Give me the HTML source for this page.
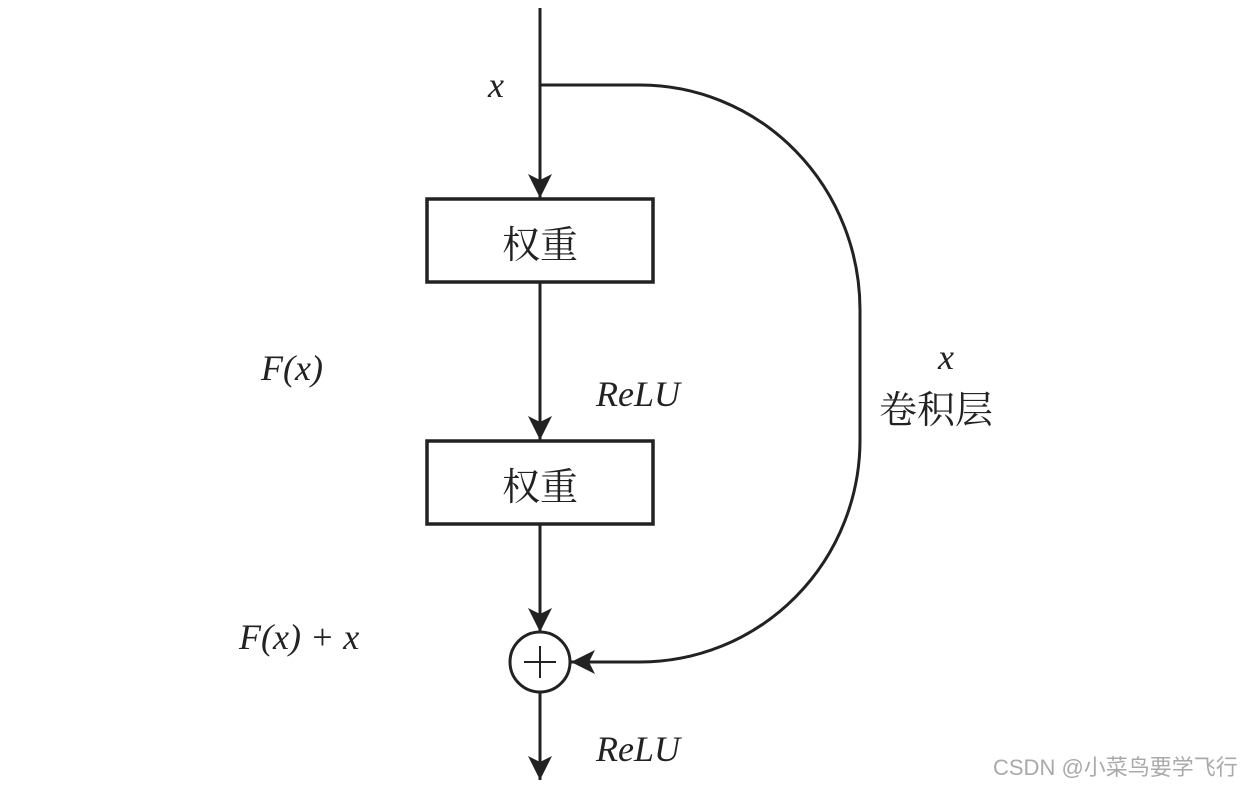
<!DOCTYPE html>
<html><head><meta charset="utf-8"><style>
body{margin:0;background:#fff;}
svg text{fill:#222;}
</style></head><body>
<svg width="1260" height="787" viewBox="0 0 1260 787" xmlns="http://www.w3.org/2000/svg">
<defs>
<marker id="a" markerWidth="26" markerHeight="26" refX="24" refY="12" orient="auto" markerUnits="userSpaceOnUse">
<path d="M0,0 L24,12 L0,24 L6,12 Z" fill="#222"/>
</marker>
</defs>
<g stroke="#222" stroke-width="3" fill="none">
<line x1="540" y1="8" x2="540" y2="198" marker-end="url(#a)"/>
<rect x="427" y="199" width="226" height="83" stroke-width="3.5"/>
<line x1="540" y1="282" x2="540" y2="440" marker-end="url(#a)"/>
<rect x="427" y="441" width="226" height="83" stroke-width="3.5"/>
<line x1="540" y1="524" x2="540" y2="632" marker-end="url(#a)"/>
<circle cx="540" cy="662" r="30"/>
<line x1="524" y1="662" x2="556" y2="662" stroke-width="2"/>
<line x1="540" y1="646" x2="540" y2="678" stroke-width="2"/>
<line x1="540" y1="692" x2="540" y2="780" marker-end="url(#a)"/>
<path d="M540,85 L640,85 A220 225 0 0 1 860 310 L860 440 A220 222 0 0 1 640 662 L571 662" marker-end="url(#a)"/>
</g>
<g font-family="'Liberation Serif', serif" font-style="italic" font-size="36">
<text x="488" y="97">x</text>
<text x="261" y="380">F(x)</text>
<text x="596" y="406">ReLU</text>
<text x="938" y="369">x</text>
<text x="239" y="649">F(x) + x</text>
<text x="596" y="761">ReLU</text>
</g>
<g font-family="'Liberation Serif','Noto Serif CJK SC',serif" font-size="38">
<text x="502" y="258">权重</text>
<text x="502" y="500">权重</text>
<text x="879" y="423">卷积层</text>
</g>
<text x="993" y="775" font-family="'Liberation Sans','Noto Sans CJK SC',sans-serif" font-size="22" style="fill:#aaa">CSDN @小菜鸟要学飞行</text>
</svg>
</body></html>
